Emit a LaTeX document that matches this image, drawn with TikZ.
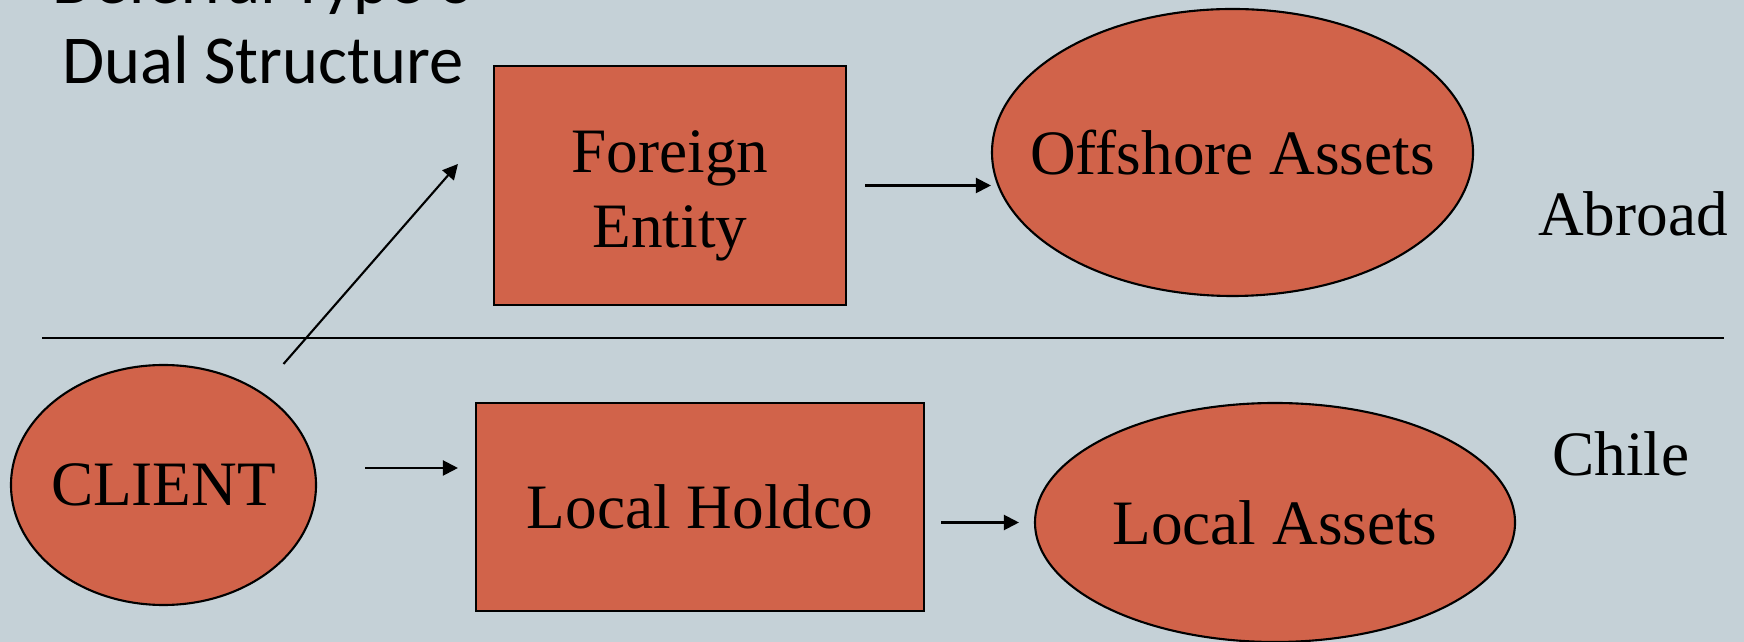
\documentclass[tikz,border=0pt]{standalone}
\usepackage{fontspec}
\setmainfont{Liberation Serif}
\newfontfamily\slidefont{Carlito}
\usetikzlibrary{positioning,shapes,arrows.meta}
\definecolor{slidebg}{RGB}{197,209,215}
\definecolor{boxfill}{RGB}{209,99,74}
\newcommand{\nowidth}[1]{\makebox[0pt]{#1}}

\begin{document}
\begin{tikzpicture}[on grid,
  every node/.style={font=\fontsize{18}{21.3}\selectfont},
  entity/.style={draw,fill=boxfill,line width=0.6pt,inner sep=0pt,align=center},
  asset/.style={ellipse,draw,fill=boxfill,line width=0.6pt,inner sep=0pt},
  arr/.style={-{Triangle[length=4.3pt,width=4.3pt]},line width=0.6pt}]
  \fill[slidebg] (0,0) rectangle (17.44,-6.42);
  \useasboundingbox (0,0) rectangle (17.44,-6.42);
  % title, its first line runs off the top
  \node[font=\slidefont\fontsize{19.5}{22.8}\selectfont,align=center,anchor=base,inner sep=0pt]
    (title) at (2.63,-0.84) {Deferral Type 3\\Dual Structure};
  % Chile side
  \node[asset,minimum width=3.05cm,minimum height=2.40cm] (client) at (1.635,-4.85) {\nowidth{CLIENT}};
  \node[entity,minimum width=4.48cm,minimum height=2.08cm] (holdco)
    [below right=0.22cm and 5.365cm of client] {Local Holdco};
  \node[asset,minimum width=4.80cm,minimum height=2.39cm] (local)
    [below right=0.155cm and 5.75cm of holdco] {\nowidth{Local Assets}};
  % abroad side
  \node[entity,minimum width=3.52cm,minimum height=2.39cm] (foreign)
    [above left=3.215cm and 0.3cm of holdco] {\rule{0pt}{0.63cm}Foreign\\Entity};
  \node[asset,minimum width=4.81cm,minimum height=2.87cm] (offshore)
    [above right=0.33cm and 5.625cm of foreign] {\nowidth{Offshore Assets}};
  \node[anchor=base] (abroad) at (16.33,-2.36) {Abroad};
  \node[anchor=base] (chile) at (16.21,-4.76) {Chile};
  \draw[line width=0.6pt] (0.42,-3.38) -- (17.24,-3.38);
  \draw[arr] ([xshift=1.2cm,yshift=1.21cm]client.center) -- ([xshift=-0.35cm,yshift=0.215cm]foreign.west);
  \draw[arr] ([xshift=0.18cm]foreign.east) -- ([yshift=-0.33cm]offshore.west);
  \draw[arr] ([xshift=0.48cm,yshift=0.17cm]client.east) -- ([xshift=-0.17cm,yshift=0.39cm]holdco.west);
  \draw[arr] ([xshift=0.16cm,yshift=-0.155cm]holdco.east) -- ([xshift=-0.15cm]local.west);
\end{tikzpicture}
\end{document}
